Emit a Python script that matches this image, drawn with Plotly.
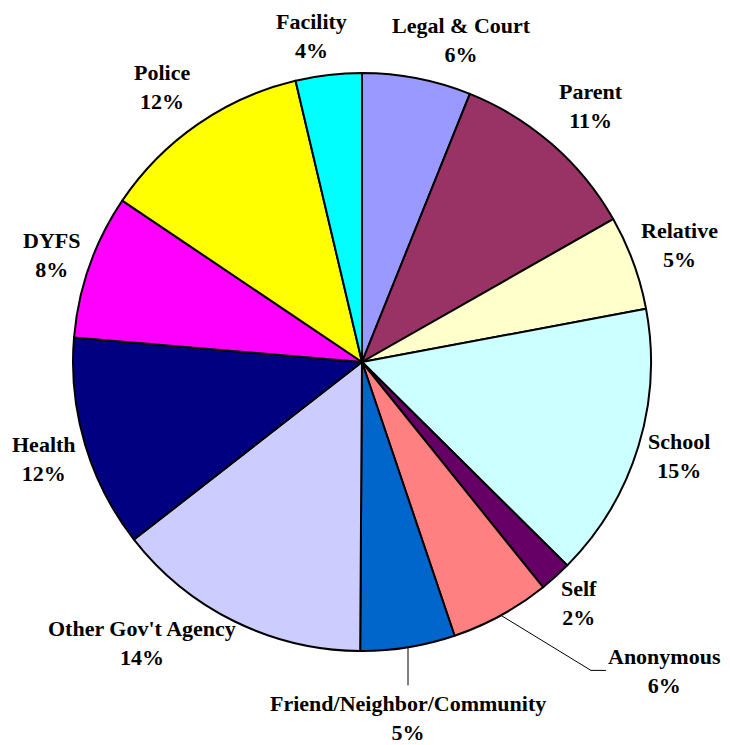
import math
import plotly.graph_objects as go

categories = ["Legal & Court", "Parent", "Relative", "School", "Self", "Anonymous",
              "Friend/Neighbor/Community", "Other Gov't Agency", "Health", "DYFS",
              "Police", "Facility"]
values = [6.1, 10.7, 5.3, 15.4, 1.8, 5.6, 5.3, 14.4, 11.9, 8.1, 11.9, 3.7]
colors = ["#9999FF", "#993366", "#FFFFCC", "#CCFFFF", "#660066", "#FF8080",
          "#0066CC", "#CCCCFF", "#000080", "#FF00FF", "#FFFF00", "#00FFFF"]

W, H = 730, 745
OFF = 8  # page body margin of the browser
CX, CY, R = 362 - OFF, 362 - OFF, 289  # pie centre / radius in figure pixels
LABEL_R = 332
# pixel nudges of labels from their radial position
nudges = {"Legal & Court": (36, 4), "Parent": (11, -6), "Relative": (6, -3),
          "School": (0, -3), "Self": (-5, -6), "Other Gov't Agency": (-73, -17),
          "Health": (0, 3), "DYFS": (3, 3), "Police": (-11, -2), "Facility": (-12, 4)}
# labels moved out with leader lines
leaders = {"Anonymous": {"elbow": (90, 55), "end": (105, 55), "label": (164, 56)},
           "Friend/Neighbor/Community": {"elbow": (0, 38), "end": (0, 38), "label": (0, 71)}}


def px(x):
    return x / W


def py(y):
    return 1 - y / H


total = sum(values)
font = dict(family="Liberation Serif, Times New Roman, serif", size=22, color="black")

fig = go.Figure(go.Pie(
    labels=categories, values=values, sort=False, direction="clockwise", rotation=0,
    marker=dict(colors=colors, line=dict(color="black", width=2)),
    textinfo="none", hoverinfo="label+percent", showlegend=False,
    domain=dict(x=[px(CX - R), px(CX + R)], y=[py(CY + R), py(CY - R)]),
))

annotations = []
shapes = []
cum = 0.0
for cat, v in zip(categories, values):
    mid = (cum + v / 2) / total * 2 * math.pi
    cum += v
    ux, uy = math.sin(mid), -math.cos(mid)
    pct = round(v / total * 100)
    text = f"<b>{cat}<br>{pct}%</b>"
    if cat in leaders:
        ex, ey = CX + R * ux, CY + R * uy
        ld = leaders[cat]
        bx, by = ex + ld["elbow"][0], ey + ld["elbow"][1]
        fx, fy = ex + ld["end"][0], ey + ld["end"][1]
        shapes.append(dict(type="path", xref="paper", yref="paper",
                           path=f"M {px(ex)},{py(ey)} L {px(bx)},{py(by)} L {px(fx)},{py(fy)}",
                           line=dict(color="black", width=1)))
        lx, ly = ex + ld["label"][0], ey + ld["label"][1]
    else:
        dx, dy = nudges.get(cat, (0, 0))
        lx, ly = CX + LABEL_R * ux + dx, CY + LABEL_R * uy + dy
    annotations.append(dict(x=px(lx), y=py(ly), xref="paper", yref="paper",
                            text=text, showarrow=False, xanchor="center", yanchor="middle",
                            font=font, align="center"))

fig.update_layout(width=W, height=H, margin=dict(l=0, r=0, t=0, b=0),
                  paper_bgcolor="white", plot_bgcolor="white",
                  annotations=annotations, shapes=shapes)
fig.write_html("out.html")
